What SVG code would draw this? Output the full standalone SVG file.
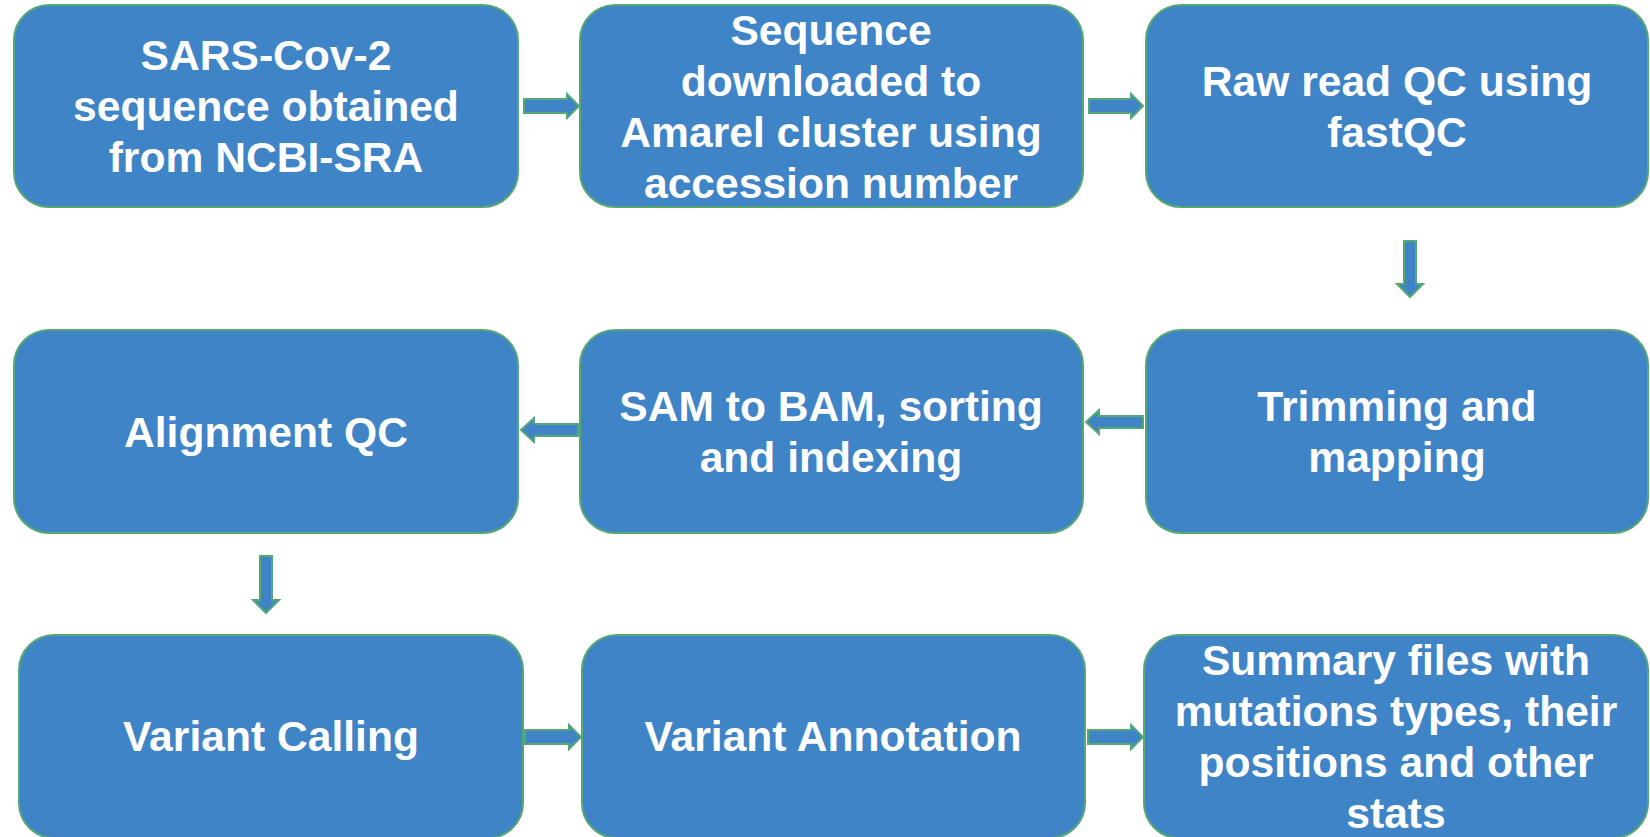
<svg xmlns="http://www.w3.org/2000/svg" width="1650" height="837" viewBox="0 0 1650 837">
  <style>
    .box { fill: #3F84C6; stroke: #55A874; stroke-width: 2; }
    .arrow { fill: #3F84C6; stroke: #55A874; stroke-width: 2; stroke-linejoin: miter; }
    .label { font-family: "Liberation Sans", Arial, sans-serif; font-weight: bold; font-size: 42.6px; fill: #FFFFFF; text-anchor: middle; }
  </style>
  <rect width="1650" height="837" fill="#FFFFFF"/>

  <!-- Row 1 -->
  <g id="node-sars">
    <rect class="box" x="14" y="5" width="504" height="202" rx="35" ry="35"/>
    <text class="label" x="266" y="70">SARS-Cov-2</text>
    <text class="label" x="266" y="121">sequence obtained</text>
    <text class="label" x="266" y="172">from NCBI-SRA</text>
  </g>
  <g id="node-download">
    <rect class="box" x="580" y="5" width="503" height="202" rx="35" ry="35"/>
    <text class="label" x="831" y="44.5">Sequence</text>
    <text class="label" x="831" y="95.5">downloaded to</text>
    <text class="label" x="831" y="146.5">Amarel cluster using</text>
    <text class="label" x="831" y="197.5">accession number</text>
  </g>
  <g id="node-rawqc">
    <rect class="box" x="1146" y="5" width="502" height="202" rx="35" ry="35"/>
    <text class="label" x="1397" y="95.5">Raw read QC using</text>
    <text class="label" x="1397" y="146.5">fastQC</text>
  </g>

  <!-- Row 2 -->
  <g id="node-alignqc">
    <rect class="box" x="14" y="330" width="504" height="203" rx="35" ry="35"/>
    <text class="label" x="266" y="446.5">Alignment QC</text>
  </g>
  <g id="node-sambam">
    <rect class="box" x="580" y="330" width="503" height="203" rx="35" ry="35"/>
    <text class="label" x="831" y="421">SAM to BAM, sorting</text>
    <text class="label" x="831" y="472">and indexing</text>
  </g>
  <g id="node-trim">
    <rect class="box" x="1146" y="330" width="502" height="203" rx="35" ry="35"/>
    <text class="label" x="1397" y="421">Trimming and</text>
    <text class="label" x="1397" y="472">mapping</text>
  </g>

  <!-- Row 3 -->
  <g id="node-calling">
    <rect class="box" x="19" y="635" width="504" height="203" rx="35" ry="35"/>
    <text class="label" x="271" y="751">Variant Calling</text>
  </g>
  <g id="node-annotation">
    <rect class="box" x="582" y="635" width="503" height="203" rx="35" ry="35"/>
    <text class="label" x="833" y="751">Variant Annotation</text>
  </g>
  <g id="node-summary">
    <rect class="box" x="1144" y="635" width="504" height="203" rx="35" ry="35"/>
    <text class="label" x="1396" y="674.5">Summary files with</text>
    <text class="label" x="1396" y="725.5">mutations types, their</text>
    <text class="label" x="1396" y="776.5">positions and other</text>
    <text class="label" x="1396" y="827.5">stats</text>
  </g>

  <!-- Block arrows between steps -->
  <g id="connectors">
    <!-- right: SARS -> download -->
    <polygon class="arrow" points="524,99 567,99 567,94 579,106 567,118 567,113 524,113"/>
    <!-- right: download -> raw QC -->
    <polygon class="arrow" points="1089,99 1131,99 1131,94 1143,106 1131,118 1131,113 1089,113"/>
    <!-- down: raw QC -> trimming -->
    <polygon class="arrow" points="1404,241 1416,241 1416,284 1423,284 1410,297 1397,284 1404,284"/>
    <!-- left: trimming -> SAM/BAM -->
    <polygon class="arrow" points="1143,416 1099,416 1099,410 1086,422 1099,434 1099,428 1143,428"/>
    <!-- left: SAM/BAM -> alignment QC -->
    <polygon class="arrow" points="578,424 534,424 534,418 521,430 534,442 534,436 578,436"/>
    <!-- down: alignment QC -> variant calling -->
    <polygon class="arrow" points="260,556 272,556 272,600 279,600 266,613 253,600 260,600"/>
    <!-- right: calling -> annotation -->
    <polygon class="arrow" points="525,730 569,730 569,725 581,737 569,749 569,744 525,744"/>
    <!-- right: annotation -> summary -->
    <polygon class="arrow" points="1088,730 1131,730 1131,725 1143,737 1131,749 1131,744 1088,744"/>
  </g>
</svg>
